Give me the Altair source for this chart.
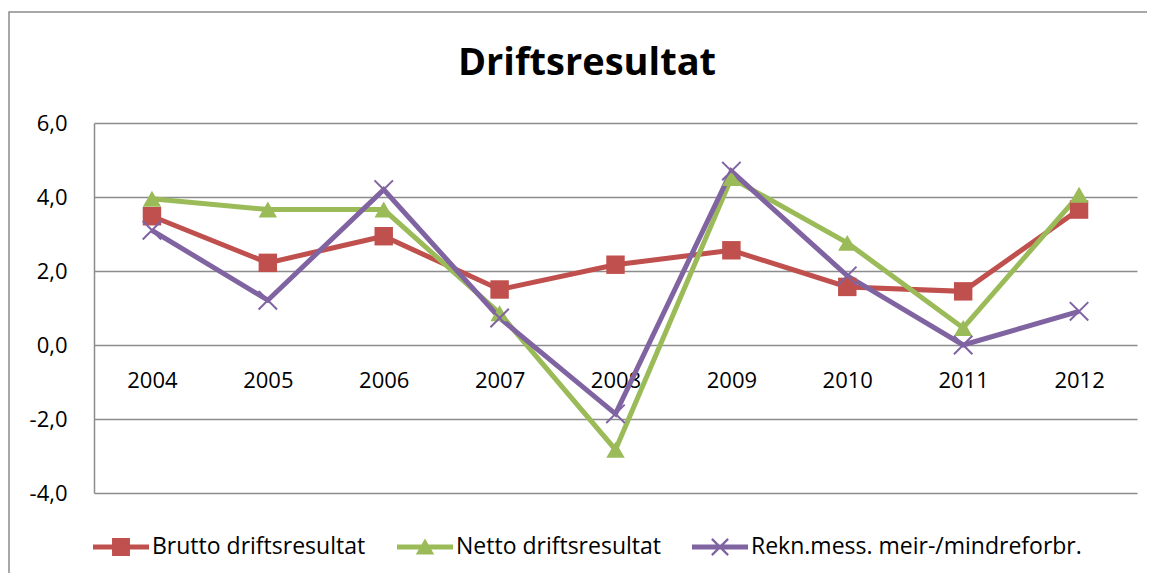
import altair as alt
import pandas as pd

years = ["2004", "2005", "2006", "2007", "2008", "2009", "2010", "2011", "2012"]
series_names = ["Brutto driftsresultat", "Netto driftsresultat", "Rekn.mess. meir-/mindreforbr."]
brutto = [3.48, 2.22, 2.94, 1.50, 2.17, 2.56, 1.57, 1.45, 3.66]
netto = [3.95, 3.66, 3.66, 0.86, -2.83, 4.51, 2.76, 0.46, 4.06]
rekn = [3.10, 1.21, 4.20, 0.73, -1.86, 4.70, 1.87, 0.00, 0.91]
colors = ["#C0504D", "#9BBB59", "#8064A2"]
title_text = "Driftsresultat"

rows = []
for name, vals in zip(series_names, [brutto, netto, rekn]):
    for y, v in zip(years, vals):
        rows.append({"year": y, "value": v, "series": name})
df = pd.DataFrame(rows)

FONT = "Open Sans"
GRID = "#8c8c8c"

x_enc = alt.X("year:N", sort=years, scale=alt.Scale(type="point", padding=0.5),
              axis=alt.Axis(title=None, domain=False, ticks=False, grid=False,
                            labelAngle=0, labelFont=FONT, labelFontSize=22,
                            labelColor="#000000", labelPadding=25, offset=-148))
y_enc = alt.Y("value:Q", scale=alt.Scale(domain=[-4, 6], nice=False, zero=False),
              axis=alt.Axis(title=None, values=[-4, -2, 0, 2, 4, 6], ticks=False,
                            domainColor=GRID, domainWidth=1.5, gridColor=GRID,
                            gridWidth=1.5, labelFont=FONT, labelFontSize=22,
                            labelColor="#000000", labelPadding=27,
                            labelExpr="(datum.value < 0 ? '-' : '') + abs(datum.value) + ',0'"))

col_scale = alt.Scale(domain=series_names, range=colors)

base = alt.Chart(df)

lines = base.mark_line(strokeWidth=5).encode(
    x=x_enc, y=y_enc,
    color=alt.Color("series:N", scale=col_scale, legend=None),
    order=alt.Order("year:N"),
)

filled_pts = base.transform_filter(
    alt.datum.series != series_names[2]
).mark_point(filled=True, opacity=1, size=340).encode(
    x=x_enc, y=y_enc,
    color=alt.Color("series:N", scale=col_scale, legend=None),
    shape=alt.Shape("series:N", scale=alt.Scale(domain=series_names[:2],
                                                range=["square", "triangle-up"]), legend=None),
)

x_pts = base.transform_filter(
    alt.datum.series == series_names[2]
).mark_point(filled=False, opacity=1, size=340, strokeWidth=2,
             shape="M-1,-1L1,1M-1,1L1,-1").encode(
    x=x_enc, y=y_enc,
    color=alt.Color("series:N", scale=col_scale, legend=None),
)

line_part = "M-1,-0.09H1V0.09H-1Z"
leg_square = line_part + "M-0.32,-0.32H0.32V0.32H-0.32Z"
leg_tri = line_part + "M0,-0.3L0.33,0.27H-0.33Z"
leg_x = (line_part
         + "M-0.262,-0.318L0.318,0.262L0.262,0.318L-0.318,-0.262Z"
         + "M-0.318,0.262L0.262,-0.318L0.318,-0.262L-0.262,0.318Z")

leg = alt.Legend(title=None, orient="none", legendX=-1, legendY=396,
                 direction="horizontal", symbolSize=3136,
                 symbolOpacity=1, symbolStrokeWidth=0,
                 labelFont=FONT, labelFontSize=23, labelColor="#000000",
                 labelOffset=3, columnPadding=31, padding=0, labelLimit=500)

legend_layer = base.mark_point(filled=True, opacity=0, size=10).encode(
    x=x_enc, y=y_enc,
    color=alt.Color("series:N", scale=col_scale, legend=leg),
    shape=alt.Shape("series:N", scale=alt.Scale(domain=series_names,
                                                range=[leg_square, leg_tri, leg_x]),
                    legend=leg),
)

frame = alt.Chart(pd.DataFrame({"a": [0]})).mark_rect(
    fill="transparent", stroke=GRID, strokeWidth=1.5
).encode(x=alt.value(-85), y=alt.value(-111), x2=alt.value(1300), y2=alt.value(700))

title = alt.Chart(pd.DataFrame({"t": [title_text]})).mark_text(
    font=FONT, fontSize=38, fontWeight="bold", color="#000000",
    align="center", baseline="alphabetic"
).encode(text="t:N", x=alt.value(493), y=alt.value(-48))

chart = alt.layer(frame, title, lines, filled_pts, x_pts, legend_layer).resolve_scale(
    color="independent", shape="independent"
).properties(
    width=1043, height=370,
    autosize=alt.AutoSizeParams(type="none"),
    padding={"left": 86, "top": 115, "right": 10, "bottom": 80},
).configure_view(stroke=None)

chart.save("out.html", embed_options={"renderer": "svg", "actions": False})
